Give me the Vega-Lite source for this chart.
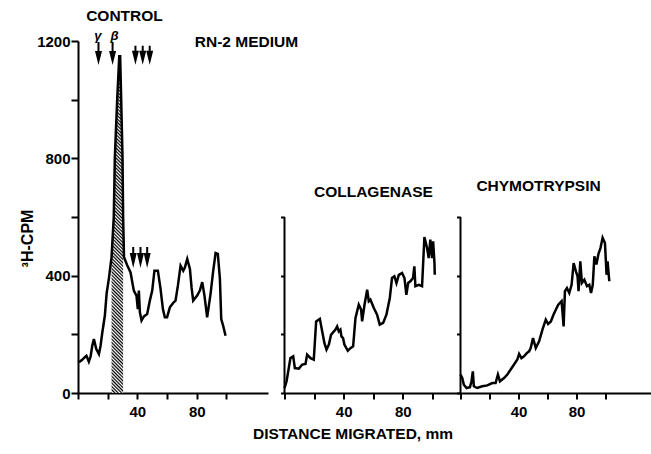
{
"$schema": "https://vega.github.io/schema/vega-lite/v6.json",
"padding": {"left": 19, "top": 9, "right": 1, "bottom": 5},
"background": "white",
"config": {
  "view": {"stroke": null},
  "font": "Liberation Sans",
  "axis": {"grid": false, "domainColor": "black", "domainWidth": 2, "tickColor": "black", "tickWidth": 2, "labelFont": "Liberation Sans", "labelFontWeight": "bold", "labelFontSize": 15, "labelColor": "black", "titleFont": "Liberation Sans", "titleFontWeight": "bold", "titleFontSize": 15.5, "titleColor": "black"},
  "text": {"font": "Liberation Sans", "fontWeight": "bold", "fontSize": 15.5, "color": "black"}
},
"datasets": {
  "control": [{"x":0,"y":105},{"x":1.5,"y":108},{"x":2.8,"y":113},{"x":4.6,"y":122},{"x":5.7,"y":127},{"x":7.3,"y":107},{"x":8.5,"y":125},{"x":9.6,"y":161},{"x":10.7,"y":184},{"x":12.3,"y":150},{"x":14.1,"y":133},{"x":15.2,"y":161},{"x":16.4,"y":207},{"x":18.1,"y":264},{"x":19.3,"y":340},{"x":20.8,"y":390},{"x":22.6,"y":463},{"x":24.1,"y":600},{"x":24.8,"y":800},{"x":26.4,"y":1000},{"x":27.8,"y":1148},{"x":28.4,"y":1148},{"x":29.1,"y":1000},{"x":30,"y":800},{"x":30.4,"y":600},{"x":31,"y":463},{"x":33,"y":437},{"x":35.4,"y":411},{"x":37.6,"y":349},{"x":39.4,"y":332},{"x":40.3,"y":286},{"x":41,"y":349},{"x":41.7,"y":275},{"x":42.8,"y":247},{"x":44.4,"y":261},{"x":46.6,"y":269},{"x":48.4,"y":315},{"x":50,"y":349},{"x":51.5,"y":417},{"x":53.8,"y":417},{"x":55.6,"y":355},{"x":57.2,"y":286},{"x":58.5,"y":258},{"x":60,"y":258},{"x":61.9,"y":292},{"x":64.1,"y":307},{"x":65.7,"y":315},{"x":67.3,"y":366},{"x":69.1,"y":434},{"x":70.9,"y":417},{"x":72,"y":428},{"x":73.6,"y":457},{"x":75.4,"y":423},{"x":76.5,"y":360},{"x":77.6,"y":315},{"x":80.3,"y":332},{"x":82.1,"y":349},{"x":83.7,"y":378},{"x":85.2,"y":332},{"x":87,"y":258},{"x":89.3,"y":338},{"x":91.1,"y":417},{"x":92.7,"y":477},{"x":94.2,"y":474},{"x":95.6,"y":389},{"x":96.5,"y":252},{"x":97.8,"y":229},{"x":99.4,"y":195}],
  "collagenase": [{"x":0,"y":17},{"x":1.4,"y":40},{"x":2.9,"y":85},{"x":4,"y":119},{"x":5.9,"y":125},{"x":7,"y":85},{"x":9.7,"y":83},{"x":12,"y":97},{"x":14.2,"y":99},{"x":15.3,"y":131},{"x":17.6,"y":119},{"x":19.8,"y":114},{"x":21.4,"y":244},{"x":23.9,"y":253},{"x":25.5,"y":210},{"x":27,"y":170},{"x":28.4,"y":148},{"x":30,"y":165},{"x":31.5,"y":199},{"x":34.5,"y":216},{"x":35.6,"y":227},{"x":36.7,"y":210},{"x":37.8,"y":216},{"x":38.5,"y":193},{"x":39.6,"y":187},{"x":40.5,"y":165},{"x":42.8,"y":144},{"x":44.6,"y":153},{"x":46.4,"y":159},{"x":48,"y":256},{"x":50.2,"y":301},{"x":51.8,"y":284},{"x":52.5,"y":244},{"x":54.1,"y":301},{"x":55.9,"y":352},{"x":57,"y":313},{"x":58.1,"y":318},{"x":60.4,"y":290},{"x":62.6,"y":267},{"x":64.4,"y":233},{"x":66.7,"y":239},{"x":68.9,"y":267},{"x":71.2,"y":324},{"x":72.7,"y":392},{"x":74.3,"y":398},{"x":75.7,"y":375},{"x":77.3,"y":403},{"x":79.5,"y":409},{"x":81.1,"y":392},{"x":82.4,"y":335},{"x":83.6,"y":375},{"x":85.1,"y":381},{"x":86.9,"y":392},{"x":87.8,"y":432},{"x":88.5,"y":364},{"x":90.8,"y":369},{"x":93,"y":364},{"x":94.6,"y":532},{"x":96.4,"y":494},{"x":97.5,"y":460},{"x":98.6,"y":523},{"x":99.8,"y":460},{"x":100.5,"y":517},{"x":101.4,"y":443},{"x":101.6,"y":403}],
  "chymotrypsin": [{"x":0,"y":63},{"x":1.2,"y":51},{"x":2.3,"y":28},{"x":4.2,"y":17},{"x":6.5,"y":20},{"x":7.6,"y":40},{"x":8.5,"y":74},{"x":9.2,"y":23},{"x":11.5,"y":17},{"x":15,"y":23},{"x":18.5,"y":26},{"x":21.9,"y":34},{"x":24.2,"y":34},{"x":25.8,"y":63},{"x":27.2,"y":40},{"x":30,"y":51},{"x":32.3,"y":63},{"x":34.6,"y":80},{"x":36.9,"y":97},{"x":39.2,"y":114},{"x":40.4,"y":133},{"x":42,"y":119},{"x":43.8,"y":125},{"x":45.7,"y":136},{"x":47.3,"y":142},{"x":48.4,"y":153},{"x":50,"y":187},{"x":51.9,"y":153},{"x":54.2,"y":176},{"x":56.5,"y":216},{"x":58.8,"y":250},{"x":60.4,"y":235},{"x":62.3,"y":244},{"x":64.1,"y":267},{"x":65.7,"y":284},{"x":67.4,"y":301},{"x":69.7,"y":313},{"x":71.1,"y":227},{"x":72,"y":347},{"x":73.4,"y":358},{"x":75,"y":341},{"x":76.6,"y":369},{"x":78,"y":443},{"x":79.6,"y":415},{"x":80.7,"y":398},{"x":81.4,"y":347},{"x":82.6,"y":449},{"x":83.7,"y":375},{"x":85.4,"y":386},{"x":87.2,"y":364},{"x":88.8,"y":369},{"x":90,"y":341},{"x":91.2,"y":369},{"x":92.3,"y":466},{"x":93.7,"y":438},{"x":95.1,"y":474},{"x":96.5,"y":494},{"x":98,"y":529},{"x":99.6,"y":511},{"x":100.7,"y":403},{"x":101.4,"y":449},{"x":102.6,"y":381}],
  "arrowsGreek": [{"x":13.8,"y":1157},{"x":23.3,"y":1157}],
  "arrowsUpper": [{"x":38.7,"y":1151},{"x":43.6,"y":1151},{"x":48.3,"y":1151}],
  "arrowsLower": [{"x":37.2,"y":462},{"x":42.1,"y":462},{"x":46.6,"y":462}],
  "greek": [{"x":13.4,"y":1203,"text":"γ"},{"x":24.6,"y":1203,"text":"β"}],
  "labelsL": [{"x":31.3,"y":1267,"text":"CONTROL"},{"x":113.5,"y":1178,"text":"RN-2 MEDIUM"}],
  "labelsM": [{"x":60.1,"y":668,"text":"COLLAGENASE"}],
  "labelsR": [{"x":53.8,"y":689,"text":"CHYMOTRYPSIN"}],
  "yAxisLine": [{"x":0,"y":0,"y2":600}]
},
"bounds": "flush",
"spacing": 16.5,
"hconcat": [
  {
    "width": 190, "height": 352,
    "encoding": {
      "x": {"field": "x", "type": "quantitative", "scale": {"domain": [0, 128], "nice": false}, "axis": {"values": [0,20,40,60,80,100], "format": "d", "labelExpr": "datum.value == 40 || datum.value == 80 ? datum.label : ''", "tickSize": 6, "labelPadding": 5.5, "title": null}},
      "y": {"field": "y", "type": "quantitative", "scale": {"domain": [0, 1200], "nice": false}, "axis": {"values": [0,200,400,600,800,1000,1200], "format": "d", "labelExpr": "datum.value % 400 == 0 ? datum.label : ''", "tickSize": 7, "labelPadding": 1, "title": "³H-CPM", "titleFontSize": 16, "titleX": -45.5, "titleY": 197, "titleBaseline": "alphabetic"}}
    },
    "layer": [
      {"data": {"name": "control"}, "transform": [{"filter": "datum.x >= 22.6 && datum.x <= 30.4"}],
       "mark": {"type": "area", "opacity": 1, "fill": {"gradient": "linear", "x1": 0.0344, "y1": 0, "x2": 0, "y2": 1, "stops": [
{"offset":0,"color":"#000"},{"offset":0.005,"color":"#fff"},{"offset":0.01,"color":"#000"},{"offset":0.015,"color":"#fff"},{"offset":0.02,"color":"#000"},{"offset":0.025,"color":"#fff"},{"offset":0.03,"color":"#000"},{"offset":0.035,"color":"#fff"},{"offset":0.04,"color":"#000"},{"offset":0.045,"color":"#fff"},
{"offset":0.05,"color":"#000"},{"offset":0.055,"color":"#fff"},{"offset":0.06,"color":"#000"},{"offset":0.065,"color":"#fff"},{"offset":0.07,"color":"#000"},{"offset":0.075,"color":"#fff"},{"offset":0.08,"color":"#000"},{"offset":0.085,"color":"#fff"},{"offset":0.09,"color":"#000"},{"offset":0.095,"color":"#fff"},
{"offset":0.1,"color":"#000"},{"offset":0.105,"color":"#fff"},{"offset":0.11,"color":"#000"},{"offset":0.115,"color":"#fff"},{"offset":0.12,"color":"#000"},{"offset":0.125,"color":"#fff"},{"offset":0.13,"color":"#000"},{"offset":0.135,"color":"#fff"},{"offset":0.14,"color":"#000"},{"offset":0.145,"color":"#fff"},
{"offset":0.15,"color":"#000"},{"offset":0.155,"color":"#fff"},{"offset":0.16,"color":"#000"},{"offset":0.165,"color":"#fff"},{"offset":0.17,"color":"#000"},{"offset":0.175,"color":"#fff"},{"offset":0.18,"color":"#000"},{"offset":0.185,"color":"#fff"},{"offset":0.19,"color":"#000"},{"offset":0.195,"color":"#fff"},
{"offset":0.2,"color":"#000"},{"offset":0.205,"color":"#fff"},{"offset":0.21,"color":"#000"},{"offset":0.215,"color":"#fff"},{"offset":0.22,"color":"#000"},{"offset":0.225,"color":"#fff"},{"offset":0.23,"color":"#000"},{"offset":0.235,"color":"#fff"},{"offset":0.24,"color":"#000"},{"offset":0.245,"color":"#fff"},
{"offset":0.25,"color":"#000"},{"offset":0.255,"color":"#fff"},{"offset":0.26,"color":"#000"},{"offset":0.265,"color":"#fff"},{"offset":0.27,"color":"#000"},{"offset":0.275,"color":"#fff"},{"offset":0.28,"color":"#000"},{"offset":0.285,"color":"#fff"},{"offset":0.29,"color":"#000"},{"offset":0.295,"color":"#fff"},
{"offset":0.3,"color":"#000"},{"offset":0.305,"color":"#fff"},{"offset":0.31,"color":"#000"},{"offset":0.315,"color":"#fff"},{"offset":0.32,"color":"#000"},{"offset":0.325,"color":"#fff"},{"offset":0.33,"color":"#000"},{"offset":0.335,"color":"#fff"},{"offset":0.34,"color":"#000"},{"offset":0.345,"color":"#fff"},
{"offset":0.35,"color":"#000"},{"offset":0.355,"color":"#fff"},{"offset":0.36,"color":"#000"},{"offset":0.365,"color":"#fff"},{"offset":0.37,"color":"#000"},{"offset":0.375,"color":"#fff"},{"offset":0.38,"color":"#000"},{"offset":0.385,"color":"#fff"},{"offset":0.39,"color":"#000"},{"offset":0.395,"color":"#fff"},
{"offset":0.4,"color":"#000"},{"offset":0.405,"color":"#fff"},{"offset":0.41,"color":"#000"},{"offset":0.415,"color":"#fff"},{"offset":0.42,"color":"#000"},{"offset":0.425,"color":"#fff"},{"offset":0.43,"color":"#000"},{"offset":0.435,"color":"#fff"},{"offset":0.44,"color":"#000"},{"offset":0.445,"color":"#fff"},
{"offset":0.45,"color":"#000"},{"offset":0.455,"color":"#fff"},{"offset":0.46,"color":"#000"},{"offset":0.465,"color":"#fff"},{"offset":0.47,"color":"#000"},{"offset":0.475,"color":"#fff"},{"offset":0.48,"color":"#000"},{"offset":0.485,"color":"#fff"},{"offset":0.49,"color":"#000"},{"offset":0.495,"color":"#fff"},
{"offset":0.5,"color":"#000"},{"offset":0.505,"color":"#fff"},{"offset":0.51,"color":"#000"},{"offset":0.515,"color":"#fff"},{"offset":0.52,"color":"#000"},{"offset":0.525,"color":"#fff"},{"offset":0.53,"color":"#000"},{"offset":0.535,"color":"#fff"},{"offset":0.54,"color":"#000"},{"offset":0.545,"color":"#fff"},
{"offset":0.55,"color":"#000"},{"offset":0.555,"color":"#fff"},{"offset":0.56,"color":"#000"},{"offset":0.565,"color":"#fff"},{"offset":0.57,"color":"#000"},{"offset":0.575,"color":"#fff"},{"offset":0.58,"color":"#000"},{"offset":0.585,"color":"#fff"},{"offset":0.59,"color":"#000"},{"offset":0.595,"color":"#fff"},
{"offset":0.6,"color":"#000"},{"offset":0.605,"color":"#fff"},{"offset":0.61,"color":"#000"},{"offset":0.615,"color":"#fff"},{"offset":0.62,"color":"#000"},{"offset":0.625,"color":"#fff"},{"offset":0.63,"color":"#000"},{"offset":0.635,"color":"#fff"},{"offset":0.64,"color":"#000"},{"offset":0.645,"color":"#fff"},
{"offset":0.65,"color":"#000"},{"offset":0.655,"color":"#fff"},{"offset":0.66,"color":"#000"},{"offset":0.665,"color":"#fff"},{"offset":0.67,"color":"#000"},{"offset":0.675,"color":"#fff"},{"offset":0.68,"color":"#000"},{"offset":0.685,"color":"#fff"},{"offset":0.69,"color":"#000"},{"offset":0.695,"color":"#fff"},
{"offset":0.7,"color":"#000"},{"offset":0.705,"color":"#fff"},{"offset":0.71,"color":"#000"},{"offset":0.715,"color":"#fff"},{"offset":0.72,"color":"#000"},{"offset":0.725,"color":"#fff"},{"offset":0.73,"color":"#000"},{"offset":0.735,"color":"#fff"},{"offset":0.74,"color":"#000"},{"offset":0.745,"color":"#fff"},
{"offset":0.75,"color":"#000"},{"offset":0.755,"color":"#fff"},{"offset":0.76,"color":"#000"},{"offset":0.765,"color":"#fff"},{"offset":0.77,"color":"#000"},{"offset":0.775,"color":"#fff"},{"offset":0.78,"color":"#000"},{"offset":0.785,"color":"#fff"},{"offset":0.79,"color":"#000"},{"offset":0.795,"color":"#fff"},
{"offset":0.8,"color":"#000"},{"offset":0.805,"color":"#fff"},{"offset":0.81,"color":"#000"},{"offset":0.815,"color":"#fff"},{"offset":0.82,"color":"#000"},{"offset":0.825,"color":"#fff"},{"offset":0.83,"color":"#000"},{"offset":0.835,"color":"#fff"},{"offset":0.84,"color":"#000"},{"offset":0.845,"color":"#fff"},
{"offset":0.85,"color":"#000"},{"offset":0.855,"color":"#fff"},{"offset":0.86,"color":"#000"},{"offset":0.865,"color":"#fff"},{"offset":0.87,"color":"#000"},{"offset":0.875,"color":"#fff"},{"offset":0.88,"color":"#000"},{"offset":0.885,"color":"#fff"},{"offset":0.89,"color":"#000"},{"offset":0.895,"color":"#fff"},
{"offset":0.9,"color":"#000"},{"offset":0.905,"color":"#fff"},{"offset":0.91,"color":"#000"},{"offset":0.915,"color":"#fff"},{"offset":0.92,"color":"#000"},{"offset":0.925,"color":"#fff"},{"offset":0.93,"color":"#000"},{"offset":0.935,"color":"#fff"},{"offset":0.94,"color":"#000"},{"offset":0.945,"color":"#fff"},
{"offset":0.95,"color":"#000"},{"offset":0.955,"color":"#fff"},{"offset":0.96,"color":"#000"},{"offset":0.965,"color":"#fff"},{"offset":0.97,"color":"#000"},{"offset":0.975,"color":"#fff"},{"offset":0.98,"color":"#000"},{"offset":0.985,"color":"#fff"},{"offset":0.99,"color":"#000"},{"offset":0.995,"color":"#fff"},
{"offset":1,"color":"#000"}]}}},
      {"data": {"name": "control"}, "mark": {"type": "line", "color": "black", "strokeWidth": 2.5}},
      {"data": {"name": "arrowsGreek"}, "mark": {"type": "point", "shape": "M-0.087,-1L0.087,-1L0.087,-0.217L0.304,-0.217L0,1L-0.304,-0.217L-0.087,-0.217Z", "size": 529, "filled": true, "color": "black", "opacity": 1, "strokeWidth": 0}},
      {"data": {"name": "arrowsUpper"}, "mark": {"type": "point", "shape": "M-0.105,-1L0.105,-1L0.105,-0.474L0.368,-0.474L0,1L-0.368,-0.474L-0.105,-0.474Z", "size": 361, "filled": true, "color": "black", "opacity": 1, "strokeWidth": 0}},
      {"data": {"name": "arrowsLower"}, "mark": {"type": "point", "shape": "M-0.095,-1L0.095,-1L0.095,-0.43L0.333,-0.43L0,1L-0.333,-0.43L-0.095,-0.43Z", "size": 441, "filled": true, "color": "black", "opacity": 1, "strokeWidth": 0}},
      {"data": {"name": "greek"}, "mark": {"type": "text", "fontStyle": "italic", "fontSize": 13, "baseline": "alphabetic"}, "encoding": {"text": {"field": "text"}}},
      {"data": {"name": "labelsL"}, "mark": {"type": "text", "baseline": "alphabetic"}, "encoding": {"text": {"field": "text"}}}
    ]
  },
  {
    "bounds": "flush",
    "spacing": 0,
    "hconcat": [
      {
        "width": 176, "height": 352,
        "encoding": {
          "x": {"field": "x", "type": "quantitative", "scale": {"domain": [0, 119], "nice": false}, "axis": {"values": [0,20,40,60,80,100], "format": "d", "labelExpr": "datum.value == 40 || datum.value == 80 ? datum.label : ''", "tickSize": 6, "labelPadding": 5.5, "title": "DISTANCE MIGRATED, mm", "titleX": 68, "titleY": 45, "titleBaseline": "alphabetic", "titleAlign": "center"}},
          "y": {"field": "y", "type": "quantitative", "scale": {"domain": [0, 1200], "nice": false}, "axis": {"values": [0,200,400,600], "labels": false, "domain": false, "tickSize": 4, "title": null}}
        },
        "layer": [
          {"data": {"name": "collagenase"}, "mark": {"type": "line", "color": "black", "strokeWidth": 2.5}},
          {"data": {"name": "yAxisLine"}, "mark": {"type": "rule", "color": "black", "strokeWidth": 2}, "encoding": {"y2": {"field": "y2"}}},
          {"data": {"name": "labelsM"}, "mark": {"type": "text", "baseline": "alphabetic"}, "encoding": {"text": {"field": "text"}}}
        ]
      },
      {
        "width": 190, "height": 352,
        "encoding": {
          "x": {"field": "x", "type": "quantitative", "scale": {"domain": [0, 131], "nice": false}, "axis": {"values": [0,20,40,60,80,100], "format": "d", "labelExpr": "datum.value == 40 || datum.value == 80 ? datum.label : ''", "tickSize": 6, "labelPadding": 5.5, "title": null}},
          "y": {"field": "y", "type": "quantitative", "scale": {"domain": [0, 1200], "nice": false}, "axis": {"values": [0,200,400,600], "labels": false, "domain": false, "tickSize": 4, "title": null}}
        },
        "layer": [
          {"data": {"name": "chymotrypsin"}, "mark": {"type": "line", "color": "black", "strokeWidth": 2.5}},
          {"data": {"name": "yAxisLine"}, "mark": {"type": "rule", "color": "black", "strokeWidth": 2}, "encoding": {"y2": {"field": "y2"}}},
          {"data": {"name": "labelsR"}, "mark": {"type": "text", "baseline": "alphabetic"}, "encoding": {"text": {"field": "text"}}}
        ]
      }
    ]
  }
]
}
